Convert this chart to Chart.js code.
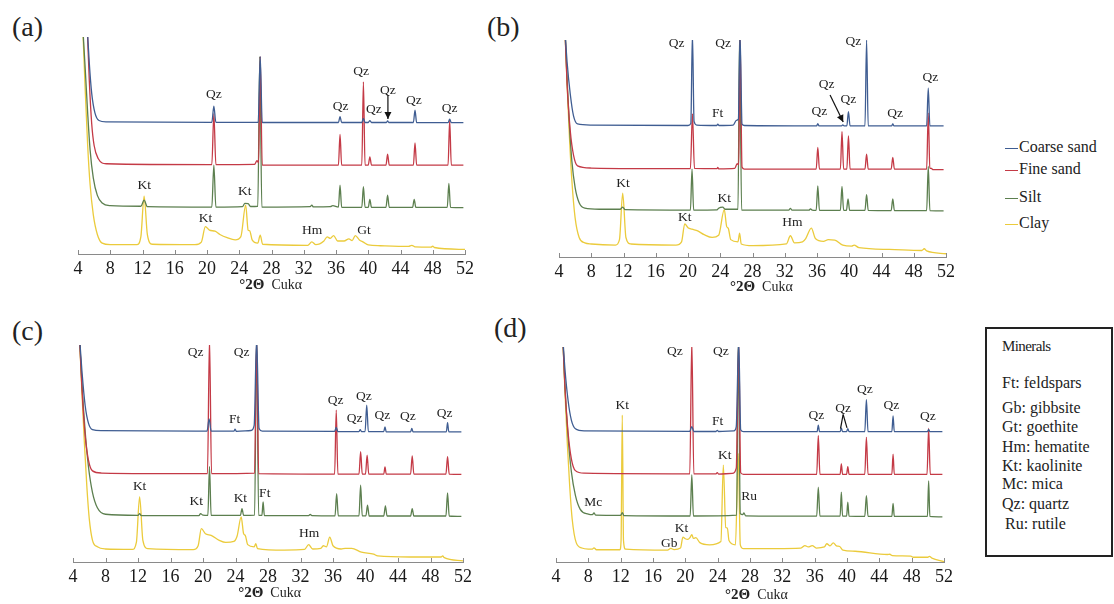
<!DOCTYPE html>
<html>
<head>
<meta charset="utf-8">
<script src="https://cdn.jsdelivr.net/npm/chart.js@4.4.1/dist/chart.umd.min.js"></script>
<style>
  body { margin: 0; background: #fff; width: 1114px; height: 604px; position: relative; overflow: hidden;
         font-family: "Liberation Serif", "DejaVu Serif", serif; color: #222; }
  canvas { position: absolute; }
  .plab { position: absolute; font-size: 28px; line-height: 1; }
  .leg { position: absolute; left: 1005px; font-size: 16px; line-height: 1; white-space: nowrap; }
  .leg span { display: inline-block; width: 13px; height: 1.5px; vertical-align: middle; margin-right: 1px; }
  #minerals { position: absolute; left: 985px; top: 327px; width: 124px; height: 226px; border: 2px solid #222; }
  #minerals div { position: absolute; left: 15px; font-size: 16px; line-height: 1; white-space: nowrap; }
  #minerals div.head { font-size: 15px; letter-spacing: -0.6px; }
</style>
</head>
<body>
<div class="plab" style="left:12px;top:13px">(a)</div>
<div class="plab" style="left:487px;top:13px">(b)</div>
<div class="plab" style="left:12px;top:317px">(c)</div>
<div class="plab" style="left:494px;top:314px">(d)</div>
<div id="legend"></div>
<div id="minerals"></div>

<script>
// ── series / legend ────────────────────────────────────────
const SERIES  = ['Coarse sand', 'Fine sand', 'Silt', 'Clay'];
const COLORS  = ['#3f5d92', '#c43a46', '#5c7f4f', '#ebcb3c'];
const xTicks  = [4, 8, 12, 16, 20, 24, 28, 32, 36, 40, 44, 48, 52];
const MINERALS = ['Ft: feldspars', 'Gb: gibbsite', 'Gt: goethite', 'Hm: hematite',
                  'Kt: kaolinite', 'Mc: mica', 'Qz: quartz', 'Ru: rutile'];

// ── panel (a) traces: [°2θ, stacked intensity] ─────────────
const a_coarse = [[5.15,104],[5.4,88],[5.7,74],[6.1,65],[6.6,61.5],[7.5,60.9],[20.6,60.7],[20.85,68.1],[21.1,60.7],[26.35,60.7],[26.6,91],[26.85,60.6],[36.3,60.6],[36.5,63.3],[36.7,60.6],[39.2,60.6],[39.4,62.5],[39.6,60.6],[40.0,60.6],[40.2,61.5],[40.4,60.6],[42.25,60.6],[42.4,61.3],[42.55,60.6],[45.6,60.6],[45.8,66.3],[46.0,60.5],[49.9,60.5],[50.1,62.2],[50.3,60.5],[51.8,60.5]];
const a_fine   = [[5.15,104],[5.4,80],[5.7,60],[6.0,50],[6.5,44],[7.5,41.6],[20.6,41.2],[20.85,64.7],[21.1,41.2],[25.9,41.3],[26.2,43],[26.4,42],[26.6,91],[26.85,41],[36.3,41],[36.5,55.1],[36.7,41],[39.2,41],[39.4,79.3],[39.6,41],[40.0,41],[40.2,44.8],[40.4,41],[42.2,41],[42.4,46],[42.6,41],[45.6,41],[45.8,51.2],[46.0,41],[49.9,41],[50.1,61.7],[50.3,41],[51.8,41]];
const a_silt   = [[4.6,104],[4.9,85],[5.2,65],[5.5,48],[5.9,35],[6.4,27],[7.0,23.5],[8,22.3],[11.8,22],[12.2,24.8],[12.6,21.8],[20.6,21.6],[20.85,41],[21.1,21.6],[24.4,21.8],[24.7,23.3],[25.1,23.2],[25.4,21.9],[26.3,22],[26.55,91],[26.8,21.6],[32.8,21.8],[33.0,22.5],[33.2,21.7],[35.3,21.8],[35.6,22.3],[36.3,21.6],[36.5,31.7],[36.7,21.5],[39.2,21.5],[39.4,31],[39.6,21.5],[40.0,21.5],[40.2,25.2],[40.4,21.5],[42.2,21.5],[42.4,27.1],[42.6,21.5],[45.5,21.5],[45.7,25.2],[45.9,21.5],[49.8,21.5],[50.0,32.5],[50.2,21.5],[51.8,21.4]];
const a_clay   = [[4.6,104],[4.9,75],[5.2,50],[5.5,32],[5.9,18],[6.4,9],[7.0,5],[8,4.3],[11.3,4.3],[11.8,8],[12.2,26.7],[12.6,9],[13.2,4.5],[18.5,4.3],[19.3,5.5],[19.8,12.6],[20.3,11],[21.0,10.5],[21.6,9],[22.5,7.5],[23.5,6.5],[24.2,8],[24.8,22.5],[25.1,11],[25.3,10.7],[25.6,6.5],[26.3,5],[26.6,8.7],[26.9,4.5],[32.5,4],[33.0,5.6],[33.5,4.3],[34.5,6],[34.9,7.9],[35.3,7.2],[35.7,8.5],[36.2,6],[37.0,6],[37.6,7],[38.0,6.2],[38.4,8.5],[38.9,6.5],[39.4,5.5],[40.0,4.2],[41.5,3.8],[45,3.5],[45.4,4],[45.8,3.3],[47.8,3.2],[48,3.6],[48.2,3],[52,2.1]];

// ── panel (b) ──────────────────────────────────────────────
const b_coarse = [[4.75,104],[5.0,90],[5.4,75],[5.8,65],[6.3,61.3],[8,60.8],[20.0,60.6],[20.35,61.5],[20.55,103],[20.75,62.5],[21.1,60.8],[23.55,60.6],[23.7,61.2],[23.85,60.6],[25.6,60.8],[26.0,63],[26.25,63.5],[26.45,103],[26.7,61.3],[27,60.6],[35.95,60.4],[36.1,61.5],[36.25,60.4],[39.05,60.4],[39.2,60.9],[39.35,60.4],[39.7,60.4],[39.9,67],[40.1,60.4],[41.95,60.4],[42.15,100],[42.35,60.4],[45.25,60.4],[45.4,61.3],[45.55,60.4],[49.6,60.4],[49.8,77.8],[50.0,60.4],[51.7,60.4]];
const b_fine   = [[4.75,104],[5.0,80],[5.4,58],[5.8,47],[6.3,42],[8,41],[20.3,40.7],[20.55,66],[20.8,40.8],[23.6,40.7],[23.7,41.3],[23.8,40.6],[25.8,40.8],[26.1,43],[26.3,42.5],[26.45,103],[26.7,41.5],[27,40.5],[35.9,40.5],[36.1,50.5],[36.3,40.5],[38.9,40.5],[39.1,57.8],[39.3,40.5],[39.7,40.5],[39.9,55.8],[40.1,40.5],[41.95,40.5],[42.15,47.4],[42.35,40.5],[45.2,40.5],[45.4,45.9],[45.6,40.5],[49.6,40.5],[49.8,66.3],[50.0,41],[50.2,40.8],[50.35,40.3],[51.7,40.3]];
const b_silt   = [[4.75,104],[5.0,82],[5.3,60],[5.6,44],[6.0,32],[6.5,25],[7.2,22.5],[9,22],[11.6,22],[11.9,23],[12.2,21.8],[20.3,21.6],[20.5,40.5],[20.7,21.6],[23.6,21.7],[23.8,22.5],[24.3,23],[24.6,22],[26.2,22],[26.4,103],[26.65,21.6],[32.5,21.6],[32.7,22.4],[32.9,21.6],[35.0,21.6],[35.2,22.2],[35.4,21.6],[35.9,21.5],[36.1,32.8],[36.3,21.5],[38.9,21.5],[39.1,32.5],[39.3,21.5],[39.65,21.5],[39.85,26.8],[40.05,21.5],[41.95,21.5],[42.15,28.7],[42.35,21.5],[45.2,21.4],[45.4,26.8],[45.6,21.4],[49.6,21.4],[49.8,41.7],[50.0,21.4],[51.7,21.3]];
const b_clay   = [[4.75,104],[5.0,80],[5.3,55],[5.6,35],[6.0,18],[6.5,9],[7.2,6.5],[8,6],[11.0,5.5],[11.5,8],[11.9,29.4],[12.3,9],[12.9,6],[18.5,5.5],[19.2,7],[19.6,15.3],[20.0,13.5],[20.5,12.8],[21.2,12],[22.0,10.3],[23.0,9],[23.8,10],[24.5,21.8],[24.8,14],[25.0,13.2],[25.3,8],[26.2,7],[26.4,11],[26.6,6],[28,5.2],[32.2,6],[32.7,9.8],[33.2,6.5],[34.2,7],[34.6,8.5],[35.3,13.3],[35.8,8.5],[36.8,7.2],[37.4,8],[38.2,7.8],[39.2,5.5],[40.3,5],[40.6,5.5],[41.2,4.3],[45,3.5],[49.0,3],[49.3,3.8],[49.6,2.8],[52,1.5]];

// ── panel (c) ──────────────────────────────────────────────
const c_coarse = [[4.8,104],[5.1,88],[5.5,72],[5.9,64],[6.4,61],[7.5,60.5],[20.5,60.3],[20.75,66],[21.0,60.3],[23.8,60.3],[23.95,61.2],[24.1,60.2],[25.9,60.6],[26.3,63],[26.6,103],[26.9,61.5],[27.3,60.3],[36.2,60.2],[36.4,62],[36.6,60.1],[39.2,60.1],[39.35,61],[39.5,60.1],[39.95,60.1],[40.15,72.3],[40.35,60.1],[42.25,60.1],[42.4,62.3],[42.55,60],[45.55,60],[45.7,61.6],[45.85,60],[49.95,60],[50.1,64.2],[50.25,60],[51.8,60]];
const c_fine   = [[4.8,104],[5.1,80],[5.5,58],[5.9,47],[6.4,42],[7.5,41],[20.55,40.7],[20.8,103],[21.05,40.7],[26.35,41],[26.6,103],[26.85,40.7],[36.2,40.5],[36.4,70],[36.6,40.5],[39.2,40.5],[39.4,50.8],[39.6,40.5],[40.0,40.5],[40.2,49.2],[40.4,40.5],[42.25,40.5],[42.4,43.8],[42.55,40.5],[45.55,40.5],[45.75,48.9],[45.95,40.5],[49.9,40.5],[50.1,48.5],[50.3,40.5],[51.8,40.4]];
const c_silt   = [[4.8,104],[5.1,82],[5.5,60],[5.9,44],[6.4,32],[7.0,25],[8,22],[12.0,21.5],[12.2,22.3],[12.4,21.4],[19.5,21.4],[19.7,22.3],[20.0,21.6],[20.6,21.5],[20.8,44],[21.0,21.5],[24.6,21.5],[24.8,24.6],[25.0,21.5],[26.35,21.6],[26.6,103],[26.85,21.5],[27.25,21.5],[27.4,27.7],[27.55,21.4],[33,21.4],[33.2,21.9],[33.4,21.4],[36.25,21.3],[36.45,31.5],[36.65,21.3],[39.2,21.3],[39.4,35.4],[39.6,21.3],[40.05,21.3],[40.25,26.2],[40.45,21.2],[42.25,21.2],[42.45,25.8],[42.65,21.2],[45.55,21.2],[45.75,24.6],[45.95,21.2],[49.9,21.2],[50.1,31.8],[50.3,21.2],[51.8,21]];
const c_clay   = [[4.8,104],[5.1,78],[5.4,55],[5.7,35],[6.0,20],[6.4,10],[7.0,7],[8,6],[11.3,5.8],[11.8,9],[12.2,30],[12.6,10],[13.2,6.2],[18.8,5.7],[19.4,7.5],[19.8,15.4],[20.3,13],[21.0,12.3],[22.0,10],[22.8,9],[23.8,9.5],[24.2,12],[24.7,20.8],[25.0,13],[25.2,12.3],[25.5,8],[26.3,7],[26.5,8.5],[26.7,6.2],[30,5.5],[32.5,5.8],[33.0,8],[33.5,6],[34.5,6.3],[34.8,7.5],[35.2,7],[35.6,11.5],[36.0,7.5],[37.0,6],[37.5,6.3],[38.3,6.3],[39.5,4.5],[41.0,3.6],[41.5,2.8],[45.5,2.3],[49.3,2.3],[49.5,2.8],[49.7,2],[52,0.5]];

// ── panel (d) ──────────────────────────────────────────────
const d_coarse = [[4.85,104],[5.1,90],[5.5,75],[5.9,66],[6.4,62],[7.5,61],[20.55,60.8],[20.8,63],[21.05,60.7],[23.8,60.7],[23.95,61.2],[24.1,60.7],[26.0,61],[26.3,63],[26.6,103],[26.85,61.5],[27.2,60.6],[36.3,60.6],[36.45,63.7],[36.6,60.6],[39.15,60.6],[39.3,62.3],[39.45,60.6],[39.95,60.6],[40.1,62],[40.25,60.6],[42.2,60.6],[42.4,75.5],[42.6,60.6],[45.55,60.6],[45.7,68],[45.85,60.6],[49.95,60.6],[50.1,61.7],[50.25,60.6],[51.8,60.6]];
const d_fine   = [[4.85,104],[5.1,82],[5.5,60],[5.9,48],[6.4,42.5],[7.5,41.3],[20.55,41],[20.8,103],[21.05,41],[23.8,41],[23.95,41.6],[24.1,40.9],[25.8,41.2],[26.3,43.6],[26.6,103],[26.85,41.5],[27.2,40.8],[36.25,40.8],[36.45,58.8],[36.65,40.8],[39.15,40.8],[39.3,45.6],[39.45,40.8],[39.95,40.8],[40.1,44.4],[40.25,40.8],[42.2,40.8],[42.4,58],[42.6,40.8],[45.55,40.8],[45.7,50.2],[45.85,40.8],[49.9,40.8],[50.1,62.1],[50.3,40.8],[51.8,40.8]];
const d_silt   = [[4.85,104],[5.1,82],[5.5,58],[5.9,42],[6.4,31],[7.0,24.5],[8,22.3],[8.5,22],[8.7,22.8],[8.9,21.8],[12.0,21.7],[12.2,23],[12.4,21.6],[20.6,21.4],[20.8,40.5],[21.0,21.4],[26.35,21.8],[26.55,103],[26.8,22.5],[27.1,22],[27.25,22.8],[27.45,21.5],[36.25,21.3],[36.45,34.8],[36.65,21.3],[39.15,21.3],[39.3,32.5],[39.45,21.3],[39.95,21.3],[40.1,27.8],[40.25,21.3],[42.2,21.2],[42.4,30.9],[42.6,21.2],[45.55,21.2],[45.7,27.3],[45.85,21.2],[49.95,21.2],[50.1,37.7],[50.25,21.2],[51.8,21]];
const d_clay   = [[4.85,104],[5.1,80],[5.4,55],[5.7,35],[6.0,20],[6.5,9],[7.2,6.5],[8,6],[8.5,6],[8.7,6.6],[9.0,5.7],[11.9,5.7],[12.05,10],[12.2,68.3],[12.35,10],[12.6,6],[17.8,5.5],[18.2,6.3],[18.6,5.8],[19.4,6.5],[19.7,11.6],[20.0,10.8],[20.3,10.5],[20.6,11.5],[20.8,12.7],[21.0,11],[21.3,11.3],[21.8,9],[23,8],[24.4,9.5],[24.7,45.1],[25.0,16],[25.2,15.8],[25.4,10],[26.2,8],[26.55,50.5],[26.8,8],[27.2,6.2],[34.3,6.5],[34.8,7.6],[35.2,7],[35.7,7.6],[36.2,6.5],[37.2,7],[37.5,8.5],[37.9,7.5],[38.3,8.9],[38.7,7.5],[39.1,7.2],[39.5,5.5],[41,5],[45.0,3.5],[45.3,3.6],[45.6,3],[47.9,2.7],[48.2,2.2],[50,2.2],[50.2,2.6],[50.5,1.8],[52,0.2]];

// ── peak labels: [text, °2θ, intensity] ────────────────────
const a_marks = [['Qz',20.84,73.6],['Qz',39.13,83.9],['Qz',36.56,68.1],['Qz',40.7,66.6],['Qz',42.44,75.5],['Qz',45.66,70.9],['Qz',50.09,67],
                 ['Kt',12.23,31.7],['Kt',24.69,28.7],['Kt',19.8,16.4],['Hm',33.04,11],['Gt',39.46,11]];
const b_marks = [['Qz',18.58,98.5],['Qz',24.37,98.5],['Ft',23.67,66.3],['Qz',40.52,99.2],['Qz',36.3,67.3],['Qz',37.2,79.3],['Qz',39.9,72.4],['Qz',45.7,66.3],['Qz',50.05,82.7],
                 ['Kt',11.95,34],['Kt',24.5,26.8],['Kt',19.6,18.3],['Hm',32.94,16]];
const c_marks = [['Qz',19.1,96.6],['Qz',24.76,96.6],['Ft',23.9,65.7],['Qz',36.33,74.3],['Qz',39.8,76.5],['Qz',38.67,66.2],['Qz',42.07,67.7],['Qz',45.23,67.2],['Qz',49.74,68.5],
                 ['Kt',12.2,34.6],['Kt',19.18,27.7],['Kt',24.6,29.5],['Ft',27.6,31.5],['Hm',33.05,13.1]];
const d_marks = [['Qz',18.71,98.1],['Qz',24.4,98.1],['Kt',12.2,72.6],['Ft',23.98,65.2],['Kt',24.89,49.5],['Qz',36.22,68.3],['Qz',39.52,71.4],['Qz',42.2,80.2],['Qz',45.5,72.9],['Qz',50.0,67.5],
                 ['Mc',8.6,27.7],['Ru',27.9,30.4],['Kt',19.53,15.8],['Gb',18.0,8.5]];

// pointers: [θ1, I1, θ2, I2, arrowhead]
const a_arrows = [[42.44,73.2,42.44,62.2,true]];
const b_arrows = [[37.62,74.7,39.25,62.2,true]];
const c_arrows = [];
const d_arrows = [[39.52,68.6,39.2,62.0,false],[39.52,68.6,40.0,62.4,false]];

// ── custom drawing: tick marks, peak labels, pointers, axis title ──
const xrdMarks = {
  id: 'xrdMarks',
  afterDraw(chart, args, opts) {
    const { ctx, chartArea, scales: { x, y } } = chart;
    const base = chartArea.bottom;
    ctx.save();

    ctx.strokeStyle = '#8a8a8a';
    ctx.lineWidth = 1;
    xTicks.forEach(v => {
      const px = Math.round(x.getPixelForValue(v)) + 0.5;
      ctx.beginPath(); ctx.moveTo(px, base); ctx.lineTo(px, base - 4); ctx.stroke();
    });

    ctx.fillStyle = '#222';
    ctx.font = '13.5px "Liberation Serif"';
    ctx.textAlign = 'center';
    ctx.textBaseline = 'middle';
    opts.marks.forEach(m => ctx.fillText(m[0], x.getPixelForValue(m[1]), y.getPixelForValue(m[2])));

    ctx.strokeStyle = '#111';
    ctx.fillStyle = '#111';
    ctx.lineWidth = 1.2;
    opts.arrows.forEach(a => {
      const x1 = x.getPixelForValue(a[0]), y1 = y.getPixelForValue(a[1]);
      const x2 = x.getPixelForValue(a[2]), y2 = y.getPixelForValue(a[3]);
      ctx.beginPath(); ctx.moveTo(x1, y1); ctx.lineTo(x2, y2); ctx.stroke();
      if (a[4]) {
        const ang = Math.atan2(y2 - y1, x2 - x1), L = 7, W = 3.5;
        ctx.beginPath();
        ctx.moveTo(x2, y2);
        ctx.lineTo(x2 - L * Math.cos(ang) + W * Math.sin(ang), y2 - L * Math.sin(ang) - W * Math.cos(ang));
        ctx.lineTo(x2 - L * Math.cos(ang) - W * Math.sin(ang), y2 - L * Math.sin(ang) + W * Math.cos(ang));
        ctx.closePath(); ctx.fill();
      }
    });

    // "°2Θ Cukα"
    const t1 = '°2Θ', t2 = '  Cukα';
    ctx.textAlign = 'left';
    ctx.font = 'bold 15px "Liberation Serif"';
    const w1 = ctx.measureText(t1).width;
    ctx.font = '14px "Liberation Serif"';
    const w2 = ctx.measureText(t2).width;
    const cx = x.getPixelForValue(opts.titleAt[0]) - (w1 + w2) / 2;
    const cy = base + opts.titleAt[1];
    ctx.fillStyle = '#222';
    ctx.font = 'bold 15px "Liberation Serif"';
    ctx.fillText(t1, cx, cy);
    ctx.font = '14px "Liberation Serif"';
    ctx.fillText(t2, cx + w1, cy);
    ctx.restore();
  }
};

// ── one panel = one chart ──────────────────────────────────
function makePanel(box, traces, marks, arrows, titleAt) {
  const cv = document.createElement('canvas');
  cv.width  = box.r - box.l + 40;
  cv.height = box.a - box.t + 20 + 50;
  cv.style.left = (box.l - 20) + 'px';
  cv.style.top  = (box.t - 20) + 'px';
  document.body.appendChild(cv);

  return new Chart(cv.getContext('2d'), {
    type: 'line',
    data: {
      datasets: traces.map((d, i) => ({
        label:           SERIES[i],
        data:            d.map(p => ({ x: p[0], y: p[1] })),
        borderColor:     COLORS[i],
        borderWidth:     1.3,
        pointRadius:     0,
        fill:            false,
        cubicInterpolationMode: 'monotone'
      }))
    },
    options: {
      responsive: false,
      animation:  false,
      devicePixelRatio: 1,
      layout: { padding: { left: 20, right: 20, top: 20, bottom: 0 } },
      plugins: {
        legend:  { display: false },
        tooltip: { enabled: false },
        xrdMarks: { marks, arrows, titleAt }
      },
      scales: {
        x: {
          type: 'linear', min: 4, max: 52,
          afterBuildTicks: s => { s.ticks = xTicks.map(v => ({ value: v })); },
          afterFit: s => { s.height = 50; },
          grid:   { display: false, drawTicks: false },
          border: { display: true, color: '#8a8a8a', width: 1 },
          ticks:  { padding: 4, color: '#1a1a1a', maxRotation: 0, font: { family: 'Liberation Serif', size: 18 } }
        },
        y: { display: false, min: 0, max: 100 }
      }
    },
    plugins: [xrdMarks]
  });
}

makePanel({ l: 78,  r: 465, t: 37,  a: 254 }, [a_coarse, a_fine, a_silt, a_clay], a_marks, a_arrows, [27.9, 31]);
makePanel({ l: 559, r: 946, t: 40,  a: 257 }, [b_coarse, b_fine, b_silt, b_clay], b_marks, b_arrows, [29.1, 30]);
makePanel({ l: 73,  r: 463, t: 345, a: 562 }, [c_coarse, c_fine, c_silt, c_clay], c_marks, c_arrows, [28.2, 31]);
makePanel({ l: 556, r: 944, t: 347, a: 562 }, [d_coarse, d_fine, d_silt, d_clay], d_marks, d_arrows, [28.8, 33]);

// ── legend and mineral key (HTML text) ─────────────────────
const legY = [139, 161, 189, 215];
document.getElementById('legend').innerHTML = SERIES.map((s, i) =>
  `<div class="leg" style="top:${legY[i]}px"><span style="background:${COLORS[i]}"></span>${s}</div>`).join('');

const minY = [10, 46, 71, 90, 110, 129, 147, 167, 187];
document.getElementById('minerals').innerHTML =
  ['Minerals'].concat(MINERALS).map((t, i) =>
    `<div class="${i === 0 ? 'head' : ''}" style="top:${minY[i]}px;${i === 8 ? 'left:18px;' : ''}">${t}</div>`).join('');
</script>
</body>
</html>
